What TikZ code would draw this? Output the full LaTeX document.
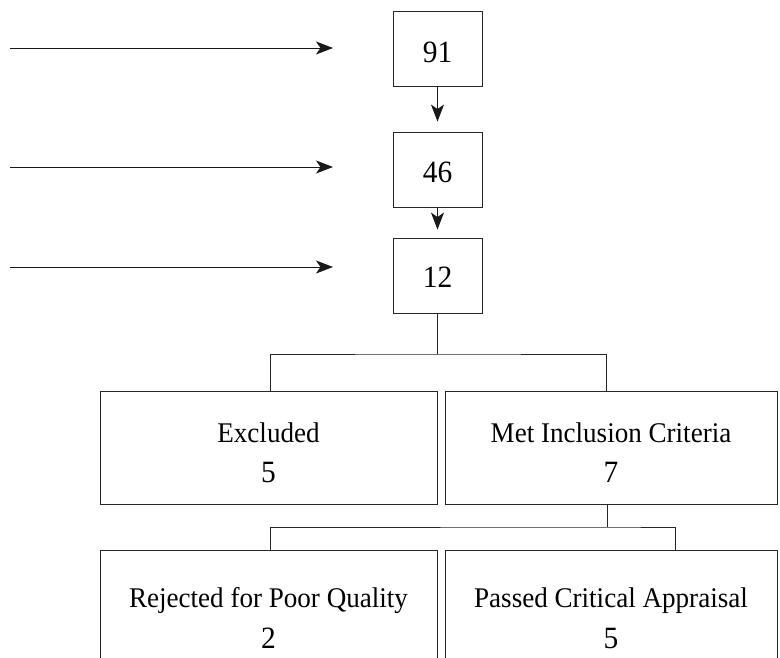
\documentclass[tikz,border=0pt]{standalone}
\usepackage{fontspec}
\setmainfont{Liberation Serif}[FakeStretch=0.95]
\usetikzlibrary{arrows.meta}
\begin{document}
\begin{tikzpicture}[x=1pt,y=-1pt,line width=0.9pt]
\tikzset{
  numbox/.style={draw=black!85, minimum width=89pt, minimum height=75pt, inner sep=0pt},
  bigbox/.style={draw=black!85, inner sep=0pt},
  lbl/.style={anchor=base, inner sep=0pt, font=\fontsize{28.5}{38}\selectfont},
  num/.style={anchor=base, inner sep=0pt, font=\fontsize{31}{38}\selectfont},
  conn/.style={draw=black!85},
  arr/.style={draw=black!90, -{Stealth[length=17pt,width=13pt,inset=4.5pt]}}
}
\useasboundingbox (0,0) rectangle (780,658);
% top column of boxes
\node[numbox] (n91) at (437.5,48.5) {};
\node[numbox] (n46) at (437.5,169.5) {};
\node[numbox] (n12) at (437.5,275.5) {};
\node[num] (t91) at (437.5,62.5) {91};
\node[num] (t46) at (437.5,182.5) {46};
\node[num] (t12) at (437.5,287.5) {12};
% left arrows
\coordinate (s1) at (10,48);  \coordinate (e1) at (333,48);
\coordinate (s2) at (10,167); \coordinate (e2) at (333,167);
\coordinate (s3) at (10,267); \coordinate (e3) at (333,267);
\draw[arr] (s1) -- (e1);
\draw[arr] (s2) -- (e2);
\draw[arr] (s3) -- (e3);
\draw[arr, shorten >=10pt] (n91) -- (n46);
\draw[arr, shorten >=8pt] (n46) -- (n12);
% second level
\node[bigbox, minimum width=337pt, minimum height=113pt] (excl) at (268.5,447.5) {};
\node[bigbox, minimum width=332pt, minimum height=113pt] (met) at (611,447.5) {};
\node[lbl] (excl-a) at (268.5,442) {Excluded};
\node[num] (excl-b) at (268.5,482) {5};
\node[lbl] (met-a) at (611,442) {Met Inclusion Criteria};
\node[num] (met-b) at (611,482) {7};
% third level
\node[bigbox, minimum width=337pt, minimum height=130pt] (rej) at (268.5,615) {};
\node[bigbox, minimum width=332pt, minimum height=130pt] (pass) at (611,615) {};
\node[lbl] (rej-a) at (268.5,607) {Rejected for Poor Quality};
\node[num] (rej-b) at (268.5,648) {2};
\node[lbl] (pass-a) at (611,607) {Passed Critical Appraisal};
\node[num] (pass-b) at (611,648) {5};
% connectors
\coordinate (b1) at (437.5,354);
\coordinate (b2) at (607,527);
\draw[conn] (n12.south) -- (b1);
\draw[conn] ([xshift=1.5pt]excl.north) |- (b1) -| ([xshift=-5pt]met.north);
\draw[conn] ([xshift=-4pt]met.south) -- (b2);
\draw[conn] ([xshift=1.5pt]rej.north) |- (b2) -| ([xshift=64pt]pass.north);
\end{tikzpicture}
\end{document}
